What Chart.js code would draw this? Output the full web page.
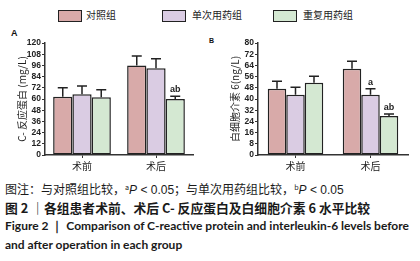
<!DOCTYPE html>
<html>
<head>
<meta charset="utf-8">
<script src="https://cdn.jsdelivr.net/npm/chart.js@4"></script>
<style>
  body { margin: 0; background: #fff; width: 420px; height: 261px; overflow: hidden; position: relative; font-family: "Noto Sans CJK SC", sans-serif; }
  .abs { position: absolute; }
  .lgbox { position: absolute; width: 22px; height: 10px; border: 1.5px solid #222; }
  .lgtxt { position: absolute; font-size: 10px; color: #222; line-height: 12px; white-space: nowrap; }
  .panel { position: absolute; font: bold 9px Arial, sans-serif; color: #111; }
  .cap { position: absolute; left: 5px; white-space: nowrap; color: #1a1a1a; }
  sup { font-size: 60%; vertical-align: 4px; }
</style>
</head>
<body>
<div class="lgbox" style="left:58px;top:10px;background:#d8aaa9"></div>
<div class="lgtxt" style="left:86px;top:9px">对照组</div>
<div class="lgbox" style="left:162px;top:10px;background:#dacce3"></div>
<div class="lgtxt" style="left:192px;top:9px">单次用药组</div>
<div class="lgbox" style="left:273px;top:10px;background:#d4e8d2"></div>
<div class="lgtxt" style="left:303px;top:9px">重复用药组</div>

<div class="panel" style="left:11px;top:28px">A</div>
<div class="panel" style="left:209px;top:37px;font-size:7px">B</div>

<canvas id="chartA" class="abs" style="left:0;top:30px" width="200" height="145"></canvas>
<canvas id="chartB" class="abs" style="left:205px;top:30px" width="215" height="145"></canvas>

<div class="cap" style="top:180px;font-size:12px;">图注：与对照组比较，<sup>a</sup><i style="font-family:Arial">P</i><span style="font-family:Arial"> &lt; 0.05</span>；与单次用药组比较，<sup>b</sup><i style="font-family:Arial">P</i><span style="font-family:Arial"> &lt; 0.05</span></div>
<div class="cap" style="top:198px;font-size:12.8px;font-weight:700;">图 2 ｜各组患者术前、术后 C- 反应蛋白及白细胞介素 6 水平比较</div>
<div class="cap" style="top:218px;font:bold 12px Lato, sans-serif;">Figure 2 ｜ Comparison of C-reactive protein and interleukin-6 levels before</div>
<div class="cap" style="top:237px;font:bold 12px Lato, sans-serif;">and after operation in each group</div>

<script>
// 分组与时间点
const groups = ['对照组', '单次用药组', '重复用药组'];
const categories = ['术前', '术后'];
const colors = ['#d8aaa9', '#dacce3', '#d4e8d2'];

// C-反应蛋白 (mg/L)  [术前, 术后]
const crpControl = [62.5, 96];
const crpSingle = [65, 93];
const crpRepeat = [62, 60];
const crpSdControl = [9.5, 10];
const crpSdSingle = [9, 10];
const crpSdRepeat = [8, 3];
const crpMarks = [['', ''], ['', ''], ['', 'ab']];
const crpTicks = [0, 12, 24, 36, 48, 60, 72, 84, 96, 108, 120];

// 白细胞介素 6 (ng/L)
const il6Control = [47.3, 61.6];
const il6Single = [43, 43];
const il6Repeat = [51.6, 27.8];
const il6SdControl = [5.4, 5.4];
const il6SdSingle = [5.4, 4.3];
const il6SdRepeat = [4.7, 1.5];
const il6Marks = [['', ''], ['', 'a'], ['', 'ab']];
const il6Ticks = [0, 8, 16, 24, 32, 40, 48, 56, 64, 72, 80];

// 误差线 + 显著性标记
const errorBarPlugin = {
    id: 'errorBars',
    afterDatasetsDraw(chart, args, opts) {
        const ctx = chart.ctx;
        const y = chart.scales.y;
        ctx.save();
        chart.data.datasets.forEach((ds, di) => {
            const meta = chart.getDatasetMeta(di);
            meta.data.forEach((bar, i) => {
                const top = y.getPixelForValue(ds.data[i] + opts.sd[di][i]);
                ctx.strokeStyle = '#222';
                ctx.lineWidth = 1.5;
                ctx.beginPath();
                ctx.moveTo(bar.x, bar.y);
                ctx.lineTo(bar.x, top);
                ctx.moveTo(bar.x - 5, top);
                ctx.lineTo(bar.x + 5, top);
                ctx.stroke();
                const mark = opts.marks[di][i];
                if (mark) {
                    ctx.fillStyle = '#222';
                    ctx.font = 'bold 9px Arial';
                    ctx.textAlign = 'center';
                    ctx.textBaseline = 'bottom';
                    ctx.fillText(mark, bar.x, top - 2);
                }
            });
        });
        ctx.restore();
    }
};

function makeChart(id, series, sds, marks, ticks, title, yWidth, titlePad, padRight, catPct) {
    new Chart(document.getElementById(id), {
        type: 'bar',
        data: {
            labels: categories,
            datasets: series.map((d, k) => ({
                label: groups[k],
                data: d,
                backgroundColor: colors[k],
                borderColor: '#222',
                borderWidth: 1.5,
                borderSkipped: false,
                barPercentage: 1,
                categoryPercentage: catPct
            }))
        },
        options: {
            responsive: false,
            animation: false,
            layout: { padding: { top: 13, right: padRight, left: 0, bottom: 0 } },
            plugins: {
                legend: { display: false },
                tooltip: { enabled: false },
                errorBars: { sd: sds, marks: marks }
            },
            scales: {
                x: {
                    afterFit: s => { s.height = 20; },
                    grid: { display: true, drawOnChartArea: false, offset: false, tickLength: 3, color: '#333' },
                    border: { color: '#333', width: 1.5 },
                    ticks: { color: '#222', padding: 2, font: { size: 10, family: 'Noto Sans CJK SC' } }
                },
                y: {
                    min: 0,
                    max: ticks[ticks.length - 1],
                    afterFit: s => { s.width = yWidth; },
                    afterBuildTicks: s => { s.ticks = ticks.map(v => ({ value: v })); },
                    grid: { display: true, drawOnChartArea: false, tickLength: 3, color: '#333' },
                    border: { color: '#333', width: 1.5 },
                    ticks: { autoSkip: false, color: '#222', padding: 1, font: { size: 8.5, weight: 'bold', family: 'Arial' } },
                    title: {
                        display: true,
                        text: title,
                        color: '#222',
                        font: { size: 10, family: 'Noto Sans CJK SC' },
                        padding: { top: titlePad, bottom: 0 }
                    }
                }
            }
        },
        plugins: [errorBarPlugin]
    });
}

makeChart('chartA', [crpControl, crpSingle, crpRepeat],
    [crpSdControl, crpSdSingle, crpSdRepeat], crpMarks, crpTicks,
    'C- 反应蛋白 (mg/L)', 45, 16, 7, 0.78);
makeChart('chartB', [il6Control, il6Single, il6Repeat],
    [il6SdControl, il6SdSingle, il6SdRepeat], il6Marks, il6Ticks,
    '白细胞介素 6(ng/L)', 53, 24, 12, 0.74);
</script>
</body>
</html>
